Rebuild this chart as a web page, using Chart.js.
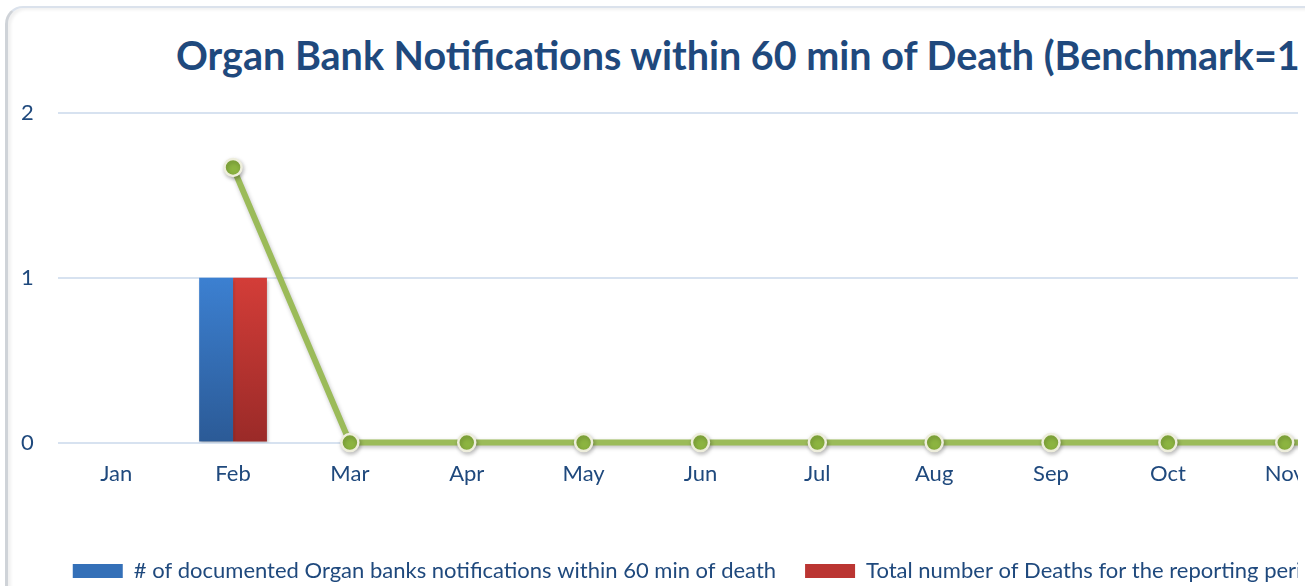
<!DOCTYPE html>
<html>
<head>
<meta charset="utf-8">
<script src="https://cdn.jsdelivr.net/npm/chart.js@4/dist/chart.umd.min.js"></script>
<style>
  html, body { margin: 0; padding: 0; background: #fff; overflow: hidden; width: 1309px; height: 586px; }
  #card {
    position: absolute; left: 5px; top: 6px; width: 1300px; height: 620px;
    border-top: 2px solid #dbe2ec; border-left: 3px solid #cfd3d8;
    border-top-left-radius: 18px; box-shadow: inset 3px 2px 3px rgba(0,0,0,0.06);
    box-sizing: border-box;
  }
  #clip { position: absolute; left: 0; top: 0; width: 1298px; height: 586px; overflow: hidden; }
  #title {
    position: absolute; left: 176px; top: 35px; margin: 0;
    font: bold 39.5px Lato, "Open Sans", sans-serif; line-height: 1;
    color: #1f497d; white-space: nowrap;
  }
  #chart { position: absolute; left: -3px; top: 0; }
</style>
</head>
<body>
<div id="card"></div>
<div id="clip">
  <h1 id="title">Organ Bank Notifications within 60 min of Death (Benchmark=100%)</h1>
  <canvas id="chart" width="1477" height="600"></canvas>
</div>
<script>
// valores
const months = ["Jan", "Feb", "Mar", "Apr", "May", "Jun", "Jul", "Aug", "Sep", "Oct", "Nov", "Dec"];
const notified = [0, 1, 0, 0, 0, 0, 0, 0, 0, 0, 0, 0];
const deaths = [0, 1, 0, 0, 0, 0, 0, 0, 0, 0, 0, 0];
const rate = [null, 1.67, 0, 0, 0, 0, 0, 0, 0, 0, 0, 0];
const yTicks = [0, 1, 2];

const labelNotified = "# of documented Organ banks notifications within 60 min of death";
const labelDeaths = "Total number of Deaths for the reporting period";

const textColor = "#1f497d";

//gradiente vertical das barras, do valor 1 até o zero
function barGradient(top, bottom) {
  return (ctx) => {
    const chart = ctx.chart;
    if (!chart.chartArea) return top;
    const y = chart.scales.y;
    const g = chart.ctx.createLinearGradient(0, y.getPixelForValue(1), 0, y.getPixelForValue(0));
    g.addColorStop(0, top);
    g.addColorStop(1, bottom);
    return g;
  };
}

//sombra leve na linha e nos pontos
const shadowPlugin = {
  id: "shadow",
  beforeDatasetDraw(chart, args) {
    const c = chart.ctx;
    c.save();
    c.shadowColor = "rgba(0,0,0,0.25)";
    c.shadowBlur = args.index === 0 ? 4 : 3;
    c.shadowOffsetX = 1;
    c.shadowOffsetY = 2;
  },
  afterDatasetDraw(chart) {
    chart.ctx.restore();
  },
  //empurra a legenda um pouco para a esquerda
  afterLayout(chart) {
    chart.legend.left -= 14;
    chart.legend.right -= 14;
  },
};

const legendFill = ["#3470b8", "#bb3532"];

new Chart(document.getElementById("chart"), {
  type: "bar",
  data: {
    labels: months,
    datasets: [
      {
        type: "line",
        data: rate,
        label: "Rate",
        borderColor: "#9bbb59",
        borderWidth: 6,
        pointRadius: 8.5,
        pointHoverRadius: 8.5,
        pointBackgroundColor: "#8cb440",
        pointBorderColor: "#eeeedc",
        pointBorderWidth: 2.5,
        tension: 0,
        clip: false,
        order: 0,
      },
      {
        data: notified,
        label: labelNotified,
        backgroundColor: barGradient("#3c80d1", "#2b5a96"),
        borderWidth: 0,
        categoryPercentage: 0.58,
        barPercentage: 1,
        order: 1,
      },
      {
        data: deaths,
        label: labelDeaths,
        backgroundColor: barGradient("#d33d38", "#9a2a28"),
        borderWidth: 0,
        categoryPercentage: 0.58,
        barPercentage: 1,
        order: 1,
      },
    ],
  },
  options: {
    responsive: false,
    animation: false,
    layout: { padding: { left: 0, right: 14, top: 113, bottom: 8 } },
    scales: {
      x: {
        grid: { display: false },
        border: { display: false },
        ticks: { color: textColor, padding: 10, font: { family: "Lato", size: 22 } },
        afterFit(scale) {
          scale.height += 34;
          scale.paddingLeft = 0;
          scale.paddingRight = 0;
        },
      },
      y: {
        min: 0,
        max: 2,
        afterBuildTicks(scale) {
          scale.ticks = yTicks.map((v) => ({ value: v }));
        },
        grid: { color: "#d7e2f0", lineWidth: 2, drawTicks: false },
        border: { display: false },
        ticks: { color: textColor, padding: 24, font: { family: "Lato", size: 22 } },
      },
    },
    plugins: {
      title: { display: false },
      tooltip: { enabled: false },
      legend: {
        position: "bottom",
        align: "start",
        fullSize: false,
        labels: {
          boxWidth: 50,
          boxHeight: 14,
          padding: 29,
          color: textColor,
          font: { family: "Lato", size: 22 },
          generateLabels(chart) {
            return Chart.defaults.plugins.legend.labels
              .generateLabels(chart)
              .filter((l) => l.datasetIndex > 0)
              .map((l) => ({ ...l, fillStyle: legendFill[l.datasetIndex - 1], lineWidth: 0 }));
          },
        },
      },
    },
  },
  plugins: [shadowPlugin],
});
</script>
</body>
</html>
